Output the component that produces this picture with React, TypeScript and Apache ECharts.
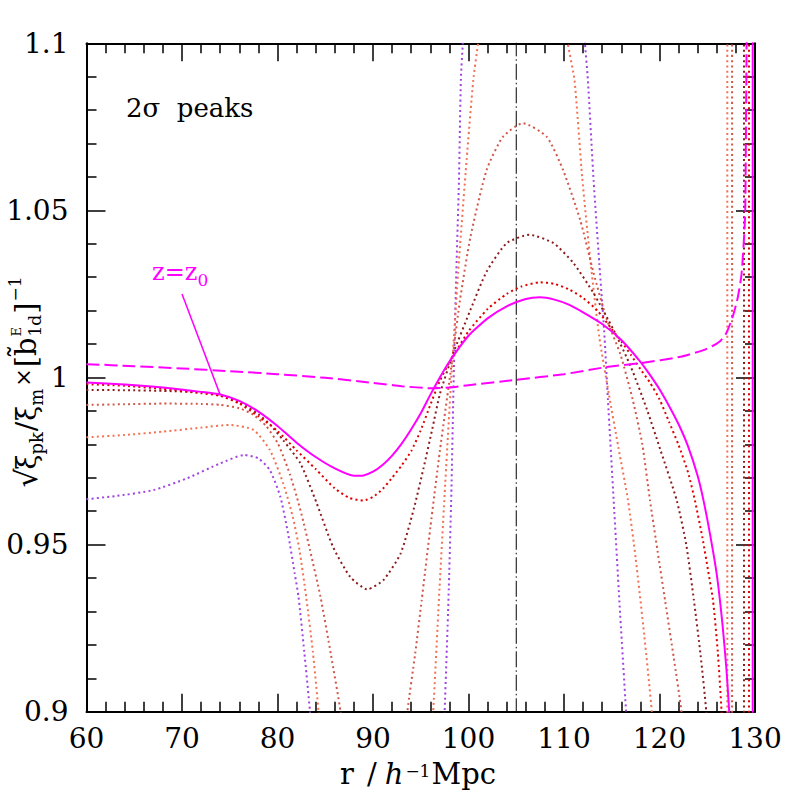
import React, { useEffect, useRef } from 'react';
import * as echarts from 'echarts';

const FONT = '"DejaVu Serif", "Liberation Serif", serif';

// axis ranges / ticks
const X_MIN = 60, X_MAX = 130, X_STEP = 10;
const Y_MIN = 0.9, Y_MAX = 1.1, Y_STEP = 0.05;

// z = z0 (solid magenta)
const solidMain = [
  [60, 0.9985], [64, 0.9979], [68, 0.997], [72, 0.9957], [74, 0.9949], [76, 0.993], [78, 0.9898], [80, 0.9855],
  [82, 0.9805], [84, 0.9762], [86, 0.9728], [88, 0.9706], [89, 0.9707], [90, 0.9718], [91, 0.9738], [92, 0.9766],
  [93, 0.9802], [94, 0.9845], [95, 0.9893], [96, 0.9948], [97, 1.0], [98, 1.0048], [100, 1.0125], [102, 1.0177],
  [104, 1.0213], [106, 1.0235], [107.5, 1.024], [109, 1.0233], [110.5, 1.0218], [112, 1.0195], [114, 1.016],
  [116, 1.0112], [118, 1.0047], [119, 1.0008], [120, 0.9965], [121, 0.9915], [122, 0.986], [123, 0.9793],
  [124, 0.9705], [124.6, 0.9633], [125.3, 0.953], [126, 0.941], [126.6, 0.926], [127, 0.913], [127.3, 0.9], [127.5, 0.885],
];
const solidReturn = [[129.76, 0.85], [129.76, 1.15]];

// dashed magenta
const dashedMain = [
  [60, 1.004], [65, 1.0034], [70, 1.0027], [75, 1.0019], [80, 1.001], [85, 0.9999], [90, 0.9984], [93, 0.9974],
  [96, 0.9968], [98, 0.997], [100, 0.9977], [105, 0.9993], [110, 1.001], [114.4, 1.0031], [118, 1.0043],
  [122.2, 1.0062], [124.6, 1.0082], [125.6, 1.0095], [126.4, 1.011], [127, 1.0133], [127.7, 1.0185], [128.2, 1.024],
  [128.6, 1.0312], [128.96, 1.048], [129.05, 1.073], [129.12, 1.1], [129.16, 1.12],
];

// red dotted
const redMain = [
  [60, 0.998], [64, 0.9975], [68, 0.9966], [72, 0.9953], [74, 0.9945], [76, 0.9922], [78, 0.9884], [80, 0.984],
  [82, 0.9782], [84, 0.9726], [86, 0.9668], [87.5, 0.964], [89, 0.9632], [90, 0.9643], [91, 0.9666], [92, 0.97],
  [93, 0.9737], [94, 0.978], [95, 0.9842], [96, 0.9918], [97, 0.999], [98, 1.0045], [100, 1.0138], [102, 1.0205],
  [104, 1.025], [105.5, 1.0272], [107.5, 1.0285], [109, 1.028], [110.5, 1.0264], [112, 1.0238], [113.5, 1.02],
  [115, 1.0145], [116, 1.0108], [117, 1.0068], [118, 1.0025], [119, 0.9985], [120, 0.9935], [121, 0.9867],
  [122, 0.9798], [123, 0.9715], [123.7, 0.9633], [124.5, 0.952], [125.1, 0.942], [125.6, 0.9334], [126.1, 0.918],
  [126.5, 0.9], [126.7, 0.885],
];
const redReturn = [[129.37, 0.85], [129.37, 1.15]];

// dark red (brown) dotted
const brownMain = [
  [60, 0.9963], [64, 0.9962], [68, 0.996], [72, 0.9955], [74, 0.9947], [76, 0.9926], [78, 0.989], [79.2, 0.986],
  [80.6, 0.9812], [82.4, 0.9743], [84.1, 0.9624], [85.8, 0.9494], [87.6, 0.9404], [89.4, 0.9366], [91.1, 0.9394],
  [92.9, 0.9474], [94.3, 0.961], [95.3, 0.973], [96.2, 0.9845], [97, 0.995], [98.4, 1.0072], [100.2, 1.0202],
  [101.9, 1.0317], [104, 1.0402], [106.4, 1.0427], [108.9, 1.0402], [111, 1.0342], [113.1, 1.0252], [115.2, 1.0142],
  [117, 1.0032], [118.7, 0.9903], [120.1, 0.9783], [121.8, 0.9633], [122.8, 0.95], [123.6, 0.9334], [124.3, 0.917],
  [124.9, 0.9], [125.2, 0.885],
];
const brownReturn = [[128.85, 0.85], [128.85, 1.15]];

// indian red dotted (peak ~1.076)
const indianLeft = [
  [60, 0.9918], [64, 0.992], [68, 0.9922], [72, 0.9921], [74, 0.9918], [76, 0.9908], [77.5, 0.9888], [78.8, 0.9855],
  [80, 0.9805], [80.6, 0.9765], [81.3, 0.971], [82, 0.9645], [82.7, 0.957], [83.4, 0.9484], [84.5, 0.9344],
  [85.6, 0.917], [86.6, 0.9], [87.1, 0.885],
];
const indianMid = [
  [93.2, 0.885], [93.6, 0.9], [94.4, 0.917], [95.1, 0.9334], [96, 0.955], [97, 0.978], [98, 0.999], [98.4, 1.0075],
  [99.1, 1.023], [100.2, 1.042], [101.9, 1.0621], [103.6, 1.072], [105.7, 1.0761], [108.2, 1.072], [109.9, 1.0621],
  [111.7, 1.0471], [113.1, 1.0312], [114.5, 1.0172], [115.9, 1.007], [117.2, 0.9933], [118.2, 0.98], [119, 0.9633],
  [119.8, 0.948], [120.6, 0.933], [121.5, 0.916], [122.3, 0.9], [122.7, 0.885],
];
const indianReturn = [[127.6, 0.85], [127.6, 1.15]];

// tomato dotted (beyond 1.1)
const tomatoLeft = [
  [60, 0.9821], [64, 0.9828], [68, 0.9838], [72, 0.985], [75, 0.9858], [77.5, 0.9843], [79.2, 0.9783], [80.6, 0.9683],
  [81.6, 0.9583], [82.3, 0.9484], [83, 0.9344], [83.7, 0.918], [84.3, 0.9], [84.7, 0.885],
];
const tomatoMid = [
  [95.9, 0.885], [96.3, 0.9], [96.9, 0.9334], [97.5, 0.965], [98.2, 1.0], [99, 1.035], [99.8, 1.065], [100.5, 1.089],
  [101, 1.1], [101.6, 1.115],
];
const tomatoRight = [
  [109.9, 1.115], [110.4, 1.1], [111.1, 1.089], [111.9, 1.06], [112.8, 1.034], [113.7, 1.012], [114.7, 0.995],
  [115.7, 0.979], [116.7, 0.9633], [117.5, 0.946], [118.4, 0.923], [119.2, 0.9], [119.6, 0.885],
];
const tomatoReturn = [[127.1, 0.85], [127.1, 1.15]];

// purple dotted
const purpleLeft = [
  [60, 0.9636], [63, 0.9645], [67, 0.9663], [70.5, 0.9698], [74, 0.9743], [76.5, 0.9768], [78, 0.9758], [79.2, 0.9723],
  [80.3, 0.9643], [81.1, 0.9534], [81.8, 0.9414], [82.2, 0.9344], [82.8, 0.918], [83.4, 0.9], [83.7, 0.885],
];
const purpleMid = [
  [97.3, 0.885], [97.5, 0.9], [97.9, 0.9334], [98.2, 0.965], [98.45, 1.0], [98.7, 1.0292], [99, 1.0591], [99.2, 1.089],
  [99.4, 1.1], [99.6, 1.115],
];
const purpleRight = [
  [112.0, 1.115], [112.2, 1.1], [112.5, 1.089], [113.1, 1.059], [113.7, 1.034], [114.2, 1.0142], [114.6, 0.9933],
  [115.2, 0.9633], [115.8, 0.933], [116.5, 0.9], [116.8, 0.885],
];

// reference line at r = 105 and label pointer
const refLine = [[105, 0.85], [105, 1.15]];
const pointerLine = [[70, 1.025], [74, 0.9948]];

const C_MAGENTA = '#ff00ff';
const C_RED = '#e00000';
const C_BROWN = '#8b1c1c';
const C_INDIAN = '#d0584a';
const C_TOMATO = '#f27152';
const C_PURPLE = '#a044e0';

type Piece = { t: string; s: number; dy?: number; it?: boolean; gap?: number; adv?: boolean };

function measure(text: string, size: number, italic: boolean) {
  const c = document.createElement('canvas').getContext('2d')!;
  c.font = `${italic ? 'italic ' : ''}${size}px ${FONT}`;
  return c.measureText(text).width;
}

// lays pieces along a baseline; vertical=true runs bottom-to-top (rotated 90deg)
function buildPieces(pieces: Piece[], color: string, ox: number, oy: number, center: boolean, vertical: boolean) {
  let pos = 0;
  const items: any[] = [];
  for (const p of pieces) {
    const w = measure(p.t, p.s, !!p.it);
    items.push({ p, pos });
    if (p.adv !== false) pos += w + (p.gap || 0);
  }
  const off = center ? -pos / 2 : 0;
  return items.map(({ p, pos: lp }) => {
    const along = lp + off;
    const across = p.dy || 0;
    const el: any = {
      type: 'text',
      silent: true,
      x: vertical ? ox + across : ox + along,
      y: vertical ? oy - along : oy + across,
      style: {
        text: p.t,
        fontSize: p.s,
        fontFamily: FONT,
        fontStyle: p.it ? 'italic' : 'normal',
        fill: color,
        align: 'left',
        verticalAlign: 'middle',
        textAlign: 'left',
        textVerticalAlign: 'middle',
      },
    };
    if (vertical) el.rotation = Math.PI / 2;
    return el;
  });
}

function dotted(data: number[][], color: string) {
  return {
    type: 'line', data, symbol: 'none', showSymbol: false, silent: true, clip: true, z: 2,
    smooth: 0.2,
    lineStyle: { color, width: 2, type: [2, 3.2], cap: 'butt' },
  };
}

function buildOption() {
  const axisCommon = {
    axisLine: { show: true, onZero: false, lineStyle: { color: '#000', width: 2 } },
    splitLine: { show: false },
  };
  const xCommon = {
    ...axisCommon, type: 'value', min: X_MIN, max: X_MAX, interval: X_STEP,
    axisTick: { show: true, inside: true, length: 18, lineStyle: { color: '#000', width: 1.5 } },
    minorTick: { show: true, splitNumber: 5, length: 10, lineStyle: { color: '#000', width: 1.5 } },
  };
  const yCommon = {
    ...axisCommon, type: 'value', min: Y_MIN, max: Y_MAX, interval: Y_STEP,
    axisTick: { show: true, inside: true, length: 19, lineStyle: { color: '#000', width: 1.5 } },
    minorTick: { show: true, splitNumber: 5, length: 10, lineStyle: { color: '#000', width: 1.5 } },
  };

  const yTitle = buildPieces([
    { t: '\u221A', s: 30, dy: 0, gap: -1 },
    { t: '\u03BE', s: 27 },
    { t: 'pk', s: 18, dy: 10, gap: 1 },
    { t: '/', s: 28, gap: 1 },
    { t: '\u03BE', s: 27 },
    { t: 'm', s: 18, dy: 10, gap: 2 },
    { t: '\u00D7', s: 22, dy: -3, gap: 1 },
    { t: '[', s: 29 },
    { t: 'b\u0303', s: 29, gap: 1 },
    { t: 'E', s: 13, dy: -10, adv: false },
    { t: '1d', s: 17, dy: 9, gap: 1 },
    { t: ']', s: 29, gap: 1 },
    { t: '\u22121', s: 17, dy: -11 },
  ], '#000', 26, 382, true, true);

  const xTitle = buildPieces([
    { t: 'r', s: 29, gap: 13 },
    { t: '/', s: 29, gap: 8 },
    { t: 'h', s: 29, it: true, gap: 2 },
    { t: '\u22121', s: 17, dy: -3, gap: 1 },
    { t: 'Mpc', s: 29 },
  ], '#000', 418, 774, true, false);

  const zLabel = buildPieces([
    { t: 'z=z', s: 24 },
    { t: '0', s: 17, dy: 8 },
  ], C_MAGENTA, 152, 272, false, false);

  return {
    animation: false,
    backgroundColor: '#ffffff',
    grid: { left: 86.5, right: 42, top: 43.3, bottom: 85.3, containLabel: false },
    xAxis: [
      { ...xCommon, position: 'bottom',
        axisLabel: { show: true, color: '#000', fontFamily: FONT, fontSize: 28, margin: 13 } },
      { ...xCommon, position: 'top', axisLabel: { show: false } },
    ],
    yAxis: [
      { ...yCommon, position: 'left',
        axisLabel: { show: true, color: '#000', fontFamily: FONT, fontSize: 28, margin: 18,
          formatter: (v: number) => String(parseFloat(v.toFixed(2))) } },
      { ...yCommon, position: 'right', axisLabel: { show: false } },
    ],
    series: [
      { type: 'line', data: refLine, symbol: 'none', silent: true, clip: true, z: 1,
        lineStyle: { color: '#000', width: 1, type: [16, 3, 1.5, 3] } },
      dotted(purpleLeft, C_PURPLE), dotted(purpleMid, C_PURPLE), dotted(purpleRight, C_PURPLE),
      dotted(tomatoLeft, C_TOMATO), dotted(tomatoMid, C_TOMATO), dotted(tomatoRight, C_TOMATO), dotted(tomatoReturn, C_TOMATO),
      dotted(indianLeft, C_INDIAN), dotted(indianMid, C_INDIAN), dotted(indianReturn, C_INDIAN),
      dotted(brownMain, C_BROWN), dotted(brownReturn, C_BROWN),
      dotted(redMain, C_RED), dotted(redReturn, C_RED),
      { type: 'line', data: dashedMain, symbol: 'none', silent: true, clip: true, z: 3, smooth: 0.2,
        lineStyle: { color: C_MAGENTA, width: 2, type: [13, 5] } },
      { type: 'line', data: solidMain, symbol: 'none', silent: true, clip: true, z: 4, smooth: 0.2,
        lineStyle: { color: C_MAGENTA, width: 2 } },
      { type: 'line', data: solidReturn, symbol: 'none', silent: true, clip: true, z: 4,
        lineStyle: { color: C_MAGENTA, width: 2 } },
      { type: 'line', data: pointerLine, symbol: 'none', silent: true, clip: true, z: 4,
        lineStyle: { color: C_MAGENTA, width: 1.5 } },
    ],
    graphic: [
      { type: 'text', left: 126, top: 95, silent: true,
        style: { text: '2\u03C3  peaks', fontSize: 26, fontFamily: FONT, fill: '#000' } },
      ...zLabel,
      ...xTitle,
      ...yTitle,
    ],
  };
}

export default function App() {
  const ref = useRef<HTMLDivElement>(null);
  useEffect(() => {
    const chart = echarts.init(ref.current!, null, { renderer: 'svg' });
    chart.setOption(buildOption() as any);
    return () => chart.dispose();
  }, []);
  return (
    <div
      ref={ref}
      style={{ position: 'fixed', left: 0, top: 0, width: 797, height: 797, background: '#fff' }}
    />
  );
}
